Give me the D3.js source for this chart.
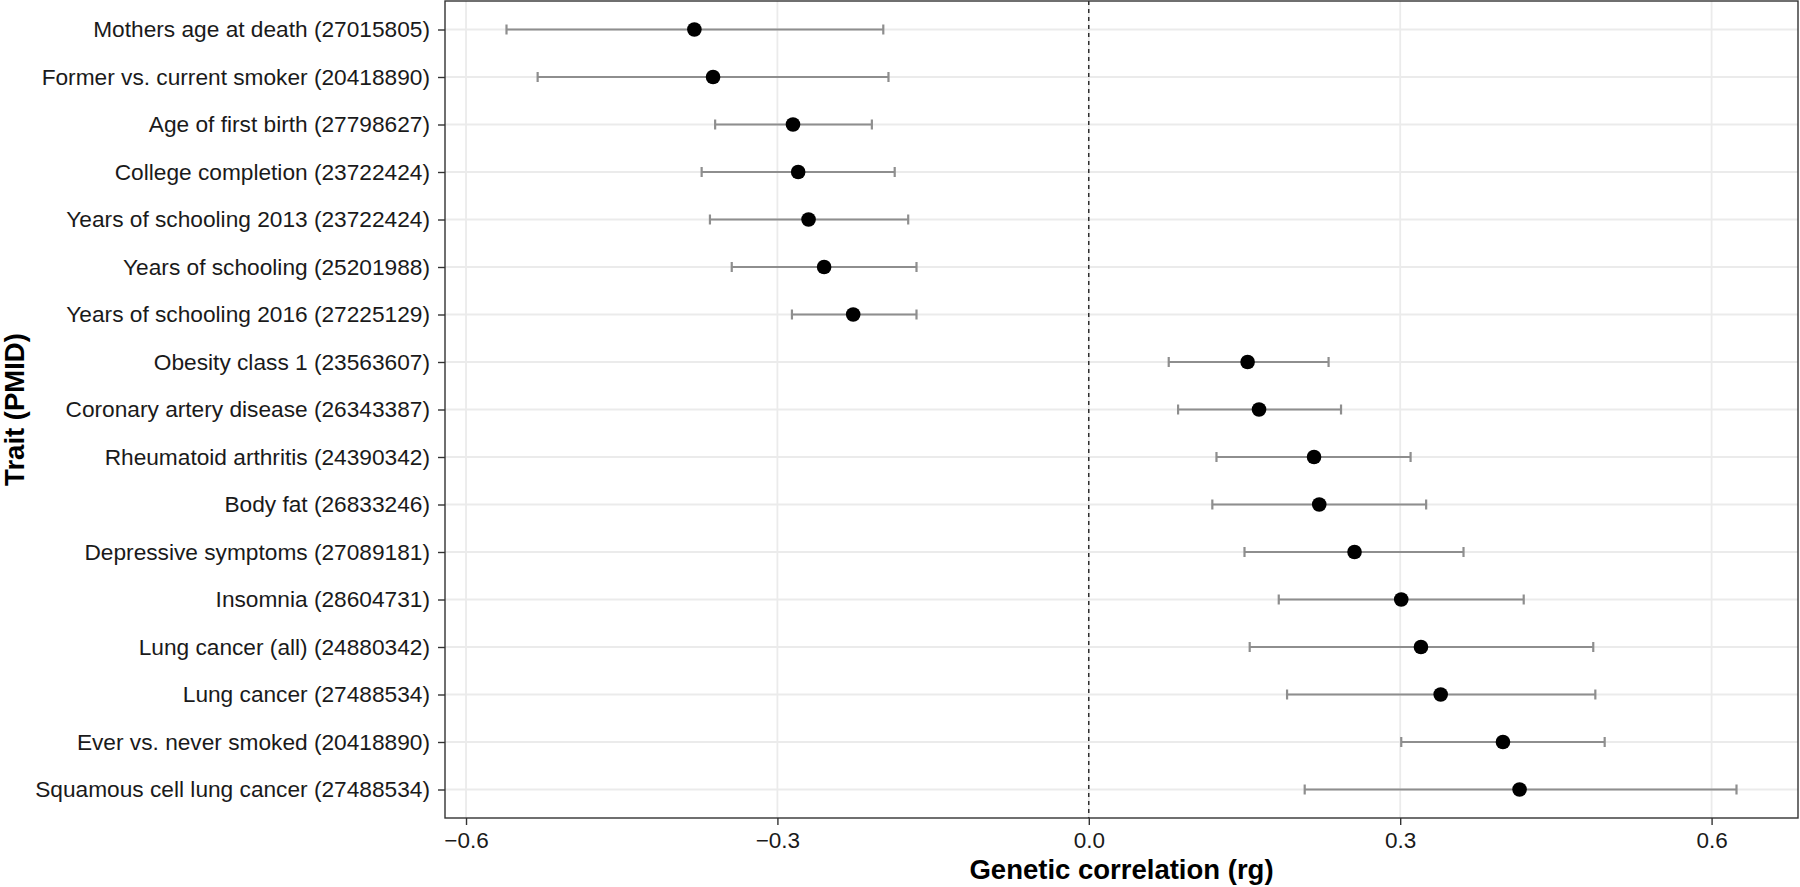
<!DOCTYPE html>
<html>
<head>
<meta charset="utf-8">
<script src="https://cdn.jsdelivr.net/npm/d3@7"></script>
<style>
  html, body { margin: 0; padding: 0; background: #fff; }
  svg { display: block; font-family: "Liberation Sans", Arial, sans-serif; }
</style>
</head>
<body>
<svg id="chart" width="1800" height="887"></svg>
<script>
const traits = [
  "Mothers age at death (27015805)",
  "Former vs. current smoker (20418890)",
  "Age of first birth (27798627)",
  "College completion (23722424)",
  "Years of schooling 2013 (23722424)",
  "Years of schooling (25201988)",
  "Years of schooling 2016 (27225129)",
  "Obesity class 1 (23563607)",
  "Coronary artery disease (26343387)",
  "Rheumatoid arthritis (24390342)",
  "Body fat (26833246)",
  "Depressive symptoms (27089181)",
  "Insomnia (28604731)",
  "Lung cancer (all) (24880342)",
  "Lung cancer (27488534)",
  "Ever vs. never smoked (20418890)",
  "Squamous cell lung cancer (27488534)"
];
const rg    = [-0.380, -0.362, -0.285, -0.280, -0.270, -0.255, -0.227, 0.153, 0.164, 0.217, 0.222, 0.256, 0.301, 0.320, 0.339, 0.399, 0.415];
const lower = [-0.561, -0.531, -0.360, -0.373, -0.365, -0.344, -0.286, 0.077, 0.086, 0.123, 0.119, 0.150, 0.183, 0.155, 0.191, 0.301, 0.208];
const upper = [-0.198, -0.193, -0.209, -0.187, -0.174, -0.166, -0.166, 0.231, 0.243, 0.310, 0.325, 0.361, 0.419, 0.486, 0.488, 0.497, 0.624];
const xTicks = [-0.6, -0.3, 0.0, 0.3, 0.6];
const xTitle = "Genetic correlation (rg)";
const yTitle = "Trait (PMID)";

const svg = d3.select("#chart");
const panel = { left: 445, right: 1798, top: 1, bottom: 818 };

const lo = d3.min(lower), hi = d3.max(upper);
const pad = (hi - lo) * 0.05;
const x = d3.scaleLinear().domain([lo - pad, hi + pad]).range([panel.left, panel.right]);
const y = d3.scalePoint().domain(traits).range([panel.top, panel.bottom]).padding(0.6);

const g = svg.append("g");

g.append("rect").attr("x", panel.left).attr("y", panel.top)
  .attr("width", panel.right - panel.left).attr("height", panel.bottom - panel.top)
  .attr("fill", "#fff");

// gridlines
g.append("g").selectAll("line").data(xTicks).join("line")
  .attr("x1", d => x(d)).attr("x2", d => x(d))
  .attr("y1", panel.top).attr("y2", panel.bottom)
  .attr("stroke", "#EBEBEB").attr("stroke-width", 1.8);
g.append("g").selectAll("line").data(traits).join("line")
  .attr("x1", panel.left).attr("x2", panel.right)
  .attr("y1", d => y(d)).attr("y2", d => y(d))
  .attr("stroke", "#EBEBEB").attr("stroke-width", 2);

// zero reference line
g.append("line")
  .attr("x1", x(0)).attr("x2", x(0))
  .attr("y1", panel.top).attr("y2", panel.bottom)
  .attr("stroke", "#000").attr("stroke-width", 1.2)
  .attr("stroke-dasharray", "4,4");

const rows = traits.map((t, i) => ({ t, v: rg[i], lo: lower[i], hi: upper[i] }));

// error bars
const eb = g.append("g").attr("stroke", "#8E8E8E").attr("stroke-width", 2.2).attr("fill", "none");
eb.selectAll("line.h").data(rows).join("line").attr("class", "h")
  .attr("x1", d => x(d.lo)).attr("x2", d => x(d.hi))
  .attr("y1", d => y(d.t)).attr("y2", d => y(d.t));
eb.selectAll("line.l").data(rows).join("line").attr("class", "l")
  .attr("x1", d => x(d.lo)).attr("x2", d => x(d.lo))
  .attr("y1", d => y(d.t) - 5).attr("y2", d => y(d.t) + 5);
eb.selectAll("line.u").data(rows).join("line").attr("class", "u")
  .attr("x1", d => x(d.hi)).attr("x2", d => x(d.hi))
  .attr("y1", d => y(d.t) - 5).attr("y2", d => y(d.t) + 5);

// points
g.append("g").selectAll("circle").data(rows).join("circle")
  .attr("cx", d => x(d.v)).attr("cy", d => y(d.t)).attr("r", 7.3)
  .attr("fill", "#000");

// panel border
g.append("rect").attr("x", panel.left).attr("y", panel.top)
  .attr("width", panel.right - panel.left).attr("height", panel.bottom - panel.top)
  .attr("fill", "none").attr("stroke", "#333").attr("stroke-width", 1.4);

// axes
const xAxis = d3.axisBottom(x).tickValues(xTicks).tickFormat(d3.format(".1f")).tickSize(7).tickPadding(7);
const xa = svg.append("g").attr("transform", `translate(0,${panel.bottom})`).call(xAxis);
xa.select(".domain").remove();
xa.selectAll(".tick line").attr("stroke", "#333").attr("stroke-width", 1.4);
xa.selectAll(".tick text").attr("fill", "#1a1a1a").style("font-size", "22.5px");

const yAxis = d3.axisLeft(y).tickSize(7).tickPadding(8);
const ya = svg.append("g").attr("transform", `translate(${panel.left},0)`).call(yAxis);
ya.select(".domain").remove();
ya.selectAll(".tick line").attr("stroke", "#333").attr("stroke-width", 1.4);
ya.selectAll(".tick text").attr("fill", "#1a1a1a").style("font-size", "22.7px");

// titles
svg.append("text").attr("x", (panel.left + panel.right) / 2).attr("y", 879)
  .attr("text-anchor", "middle").style("font-size", "27.5px").style("font-weight", "bold")
  .attr("fill", "#000").text(xTitle);
svg.append("text")
  .attr("transform", `translate(24,${(panel.top + panel.bottom) / 2}) rotate(-90)`)
  .attr("text-anchor", "middle").style("font-size", "27.5px").style("font-weight", "bold")
  .attr("fill", "#000").text(yTitle);
</script>
</body>
</html>
